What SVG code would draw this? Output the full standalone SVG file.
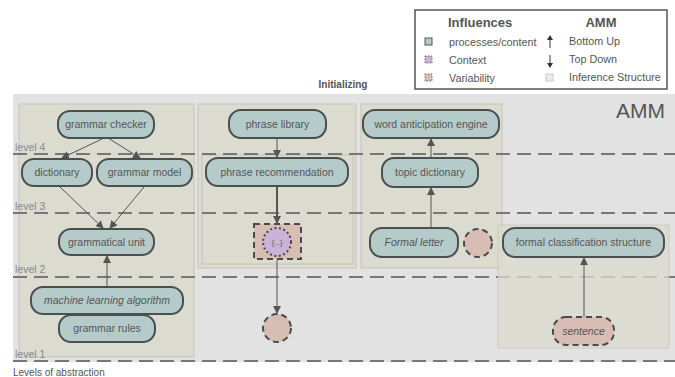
<svg xmlns="http://www.w3.org/2000/svg" width="675" height="377" viewBox="0 0 675 377">
<defs>
<style>
text{font-family:"Liberation Sans",Arial,sans-serif;fill:#555;}
.n{fill:#b5cbc9;stroke:#4a4f4f;stroke-width:2;}
.nt{font-size:10.5px;text-anchor:middle;}
.it{font-style:italic;}
.panel{fill:#dcdbcf;stroke:#c3c3b8;stroke-width:1;}
.lvl{stroke:#777;stroke-width:2;stroke-dasharray:14 7;fill:none;}
.lv{font-size:10.5px;fill:#888;}
.var{fill:#d8bdb4;stroke:#4a4a4a;stroke-width:2;stroke-dasharray:6 4;}
.ctx{fill:#c9b3d8;stroke:#4a4a4a;stroke-width:2;stroke-dasharray:2 2.5;}
.c{stroke:#555;stroke-width:1;fill:none;}
.ct{stroke:#555;stroke-width:2;fill:none;}
.lg{font-size:10.8px;}
.li{stroke-width:1;}
</style>
<marker id="ah" markerWidth="8" markerHeight="8" refX="7" refY="4" orient="auto" markerUnits="userSpaceOnUse">
<path d="M0,0 L8,4 L0,8 z" fill="#555"/>
</marker>
</defs>
<rect width="675" height="377" fill="#fff"/>

<g id="legend">
<rect x="415" y="10" width="252" height="79" fill="#fff" stroke="#555" stroke-width="1.5"/>
<text x="448" y="27" font-size="13" font-weight="bold" fill="#444">Influences</text>
<text x="601" y="27" font-size="13" font-weight="bold" fill="#444" text-anchor="middle">AMM</text>
<rect x="425" y="38" width="7" height="7" fill="#b5cbc9" stroke="#555" stroke-width="1"/>
<rect x="425" y="56" width="7" height="7" fill="#c9b3d8" stroke="#666" stroke-width="1" stroke-dasharray="1.5 1.5"/>
<rect x="425" y="74" width="7" height="7" fill="#d8bdb4" stroke="#666" stroke-width="1" stroke-dasharray="1.5 1.5"/>
<text x="449" y="46" class="lg">processes/content</text>
<text x="449" y="64" class="lg">Context</text>
<text x="449" y="82" class="lg">Variability</text>
<line x1="550" y1="48" x2="550" y2="37" stroke="#333" stroke-width="1"/>
<path d="M547,40 L550,35 L553,40 z" fill="#333"/>
<line x1="550" y1="55" x2="550" y2="66" stroke="#333" stroke-width="1"/>
<path d="M547,63 L550,68 L553,63 z" fill="#333"/>
<rect x="546" y="74" width="7" height="7" fill="#ecece2" stroke="#ccc" stroke-width="1"/>
<text x="569" y="45" class="lg">Bottom Up</text>
<text x="569" y="63" class="lg">Top Down</text>
<text x="569" y="81" class="lg">Inference Structure</text>
</g>

<text x="343" y="88" font-size="10" font-weight="bold" fill="#222" text-anchor="middle">Initializing</text>

<rect x="13" y="94" width="662" height="268" fill="#e2e2e2"/>
<text x="665" y="118" font-size="21" text-anchor="end" fill="#555">AMM</text>

<g id="panels">
<rect class="panel" x="19" y="104" width="175" height="253"/>
<rect class="panel" x="198" y="104" width="158" height="164"/>
<rect class="panel" x="202" y="155" width="151" height="109"/>
<rect class="panel" x="361" y="104" width="141" height="164"/>
</g>

<g id="levels">
<line class="lvl" x1="13" y1="154" x2="675" y2="154"/>
<line class="lvl" x1="13" y1="213" x2="675" y2="213"/>
<line class="lvl" x1="13" y1="277" x2="675" y2="277"/>
<line class="lvl" x1="13" y1="361" x2="675" y2="361"/>
<text x="15" y="151" class="lv">level 4</text>
<text x="15" y="210" class="lv">level 3</text>
<text x="15" y="273" class="lv">level 2</text>
<text x="15" y="358" class="lv">level 1</text>
</g>

<rect class="panel" x="498" y="225" width="171" height="123" opacity="0.75"/>

<text x="13" y="376" font-size="10" fill="#666">Levels of abstraction</text>

<g id="connectors">
<line class="c" x1="104" y1="138" x2="62" y2="158" marker-end="url(#ah)"/>
<line class="c" x1="108" y1="138" x2="140" y2="158" marker-end="url(#ah)"/>
<line class="c" x1="60" y1="187" x2="103" y2="228" marker-end="url(#ah)"/>
<line class="c" x1="144" y1="187" x2="110" y2="228" marker-end="url(#ah)"/>
<line class="c" x1="107" y1="287" x2="107" y2="256" marker-end="url(#ah)"/>
<line class="c" x1="277" y1="138" x2="277" y2="157" marker-end="url(#ah)"/>
<line class="ct" x1="277" y1="187" x2="277" y2="223" marker-end="url(#ah)"/>
<line class="c" x1="277" y1="260" x2="277" y2="313" marker-end="url(#ah)"/>
<line class="c" x1="431" y1="228" x2="431" y2="188" marker-end="url(#ah)"/>
<line class="c" x1="431" y1="158" x2="431" y2="139" marker-end="url(#ah)"/>
<line class="c" x1="584" y1="317" x2="584" y2="258" marker-end="url(#ah)"/>
</g>

<g id="grammar-checker"><rect class="n" x="58" y="111" width="96" height="27" rx="12"/><text class="nt" x="106" y="128">grammar checker</text></g>
<g id="dictionary"><rect class="n" x="22" y="159" width="70" height="27" rx="12"/><text class="nt" x="57" y="176">dictionary</text></g>
<g id="grammar-model"><rect class="n" x="97" y="159" width="95" height="27" rx="12"/><text class="nt" x="144.5" y="176">grammar model</text></g>
<g id="grammatical-unit"><rect class="n" x="59" y="229" width="95" height="26" rx="12"/><text class="nt" x="106.5" y="246">grammatical unit</text></g>
<g id="machine-learning-algorithm"><rect class="n" x="31" y="287" width="152" height="27" rx="12"/><text class="nt it" x="107" y="304">machine learning algorithm</text></g>
<g id="grammar-rules"><rect class="n" x="59" y="315" width="96" height="27" rx="12"/><text class="nt" x="107" y="332">grammar rules</text></g>

<g id="phrase-library"><rect class="n" x="229" y="110" width="97" height="28" rx="12"/><text class="nt" x="277.5" y="128">phrase library</text></g>
<g id="phrase-recommendation"><rect class="n" x="206" y="158" width="142" height="28" rx="12"/><text class="nt" x="277" y="176">phrase recommendation</text></g>
<g id="variability-square"><rect class="var" x="254" y="224" width="47" height="35"/></g>
<g id="context"><circle class="ctx" cx="277" cy="242" r="14"/><text x="277" y="245" font-size="7" text-anchor="middle">{...}</text></g>
<g id="variability-circle-1"><circle class="var" cx="277" cy="328" r="14"/></g>

<g id="word-anticipation-engine"><rect class="n" x="363" y="110" width="136" height="28" rx="12"/><text class="nt" x="431" y="128">word anticipation engine</text></g>
<g id="topic-dictionary"><rect class="n" x="382" y="158" width="96" height="29" rx="12"/><text class="nt" x="430" y="176">topic dictionary</text></g>
<g id="formal-letter"><rect class="n" x="370" y="228" width="88" height="29" rx="12"/><text class="nt it" x="414" y="246">Formal letter</text></g>
<g id="variability-circle-2"><circle class="var" cx="478" cy="243" r="14"/></g>

<g id="formal-classification-structure"><rect class="n" x="503" y="228" width="161" height="29" rx="12"/><text class="nt" x="583.5" y="246">formal classification structure</text></g>
<g id="sentence"><rect class="var" x="553" y="317" width="61" height="28" rx="13"/><text class="nt it" x="583.5" y="335" font-size="10">sentence</text></g>
</svg>
